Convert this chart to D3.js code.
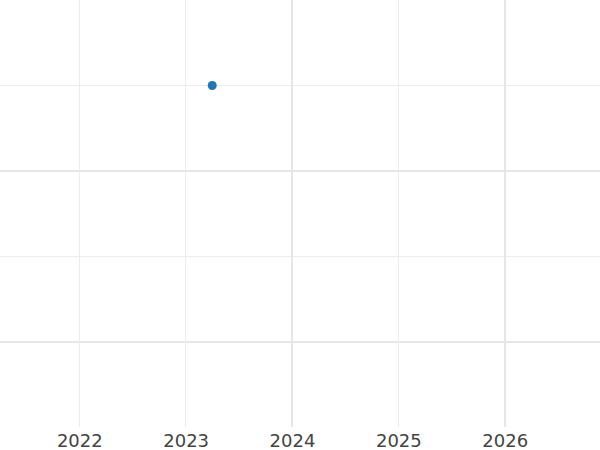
<!DOCTYPE html>
<html>
<head>
<meta charset="utf-8">
<script src="https://cdn.jsdelivr.net/npm/d3@7"></script>
<style>
  body { margin: 0; background: #fff; }
  svg { display: block; }
  .tick-label { font-family: "DejaVu Sans", sans-serif; font-size: 18px; fill: #444; }
</style>
</head>
<body>
<svg id="chart" width="600" height="450"></svg>
<script>
// data
var pointYears = [2023.25];
var pointValues = [1.5];
var xTickYears = [2022, 2023, 2024, 2025, 2026];
var xMajorYears = [2024, 2026];
var yMinorValues = [0.5, 1.5];
var yMajorValues = [0, 1];

var width = 600, height = 450
  , plotBottom = 427;

var svg = d3.select("#chart");

var x = d3.scaleLinear()
  .domain([2021.2544, 2026.896])
  .range([0, width]);

var y = d3.scaleLinear()
  .domain([-0.5, 2])
  .range([427.5, 0]);

function isMajor(d){ return xMajorYears.indexOf(d) >= 0; }

var grid = svg.append("g").attr("class", "grid");

// horizontal grid - minor then major
grid.selectAll(".hminor").data(yMinorValues).enter().append("line")
  .attr("x1", 0).attr("x2", width)
  .attr("y1", function(d){ return Math.floor(y(d)) + 0.5; })
  .attr("y2", function(d){ return Math.floor(y(d)) + 0.5; })
  .attr("stroke", "#ececec").attr("stroke-width", 1);

grid.selectAll(".hmajor").data(yMajorValues).enter().append("line")
  .attr("x1", 0).attr("x2", width)
  .attr("y1", function(d){ return Math.round(y(d)); })
  .attr("y2", function(d){ return Math.round(y(d)); })
  .attr("stroke", "#e6e6e6").attr("stroke-width", 2);

// vertical grid
grid.selectAll(".vline").data(xTickYears).enter().append("line")
  .attr("y1", 0).attr("y2", plotBottom)
  .attr("x1", function(d){ return isMajor(d) ? Math.round(x(d)) : Math.floor(x(d)) + 0.5; })
  .attr("x2", function(d){ return isMajor(d) ? Math.round(x(d)) : Math.floor(x(d)) + 0.5; })
  .attr("stroke", function(d){ return isMajor(d) ? "#e6e6e6" : "#ececec"; })
  .attr("stroke-width", function(d){ return isMajor(d) ? 2 : 1; });

// x tick labels
var xAxis = d3.axisBottom(x)
  .tickValues(xTickYears)
  .tickFormat(d3.format("d"))
  .tickSize(0)
  .tickPadding(0);

var axisG = svg.append("g")
  .attr("transform", "translate(0," + plotBottom + ")")
  .call(xAxis);
axisG.select(".domain").remove();
axisG.selectAll("text")
  .attr("class", "tick-label")
  .attr("dy", null)
  .attr("y", 20)
  .style("font-family", null)
  .style("font-size", null);
axisG.attr("font-family", null).attr("font-size", null);

// points
svg.append("g").selectAll("circle")
  .data(pointYears).enter().append("circle")
  .attr("cx", function(d){ return x(d); })
  .attr("cy", function(d, i){ return y(pointValues[i]); })
  .attr("r", 4.5)
  .attr("fill", "#1f77b4");
</script>
</body>
</html>
